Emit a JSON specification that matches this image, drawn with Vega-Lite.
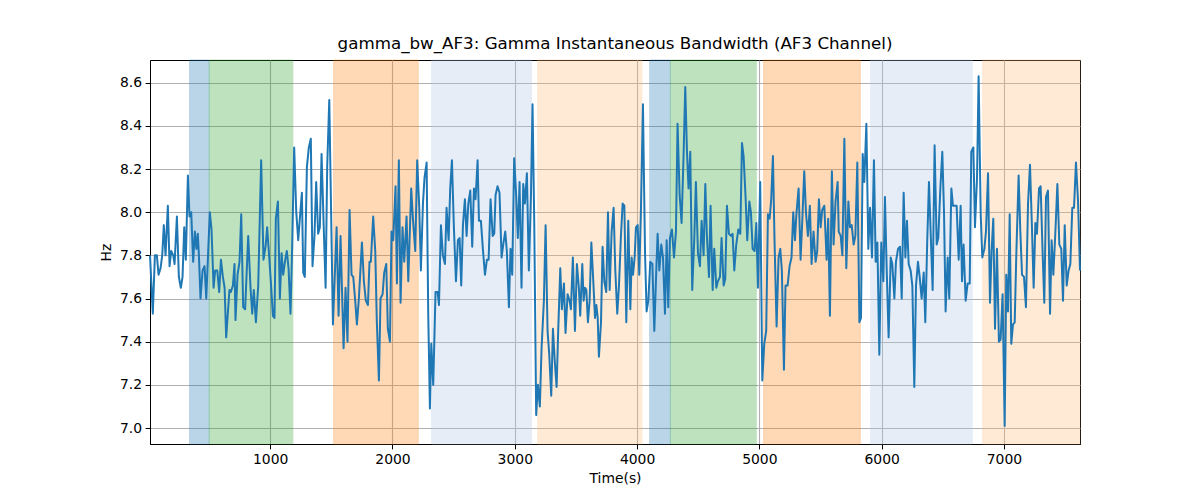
{
  "$schema": "https://vega.github.io/schema/vega-lite/v6.json",
  "width": 930,
  "height": 384,
  "autosize": {"type": "none"},
  "padding": {"left": 150, "top": 60, "right": 120, "bottom": 56},
  "background": "white",
  "title": {"text": "gamma_bw_AF3: Gamma Instantaneous Bandwidth (AF3 Channel)", "font": "DejaVu Sans", "fontSize": 16.7, "fontWeight": "normal", "color": "black", "offset": 7},
  "datasets": {
    "bands": [
      {"start": 340, "end": 501, "kind": "c1"},
      {"start": 501, "end": 1185, "kind": "c2"},
      {"start": 1518, "end": 2211, "kind": "c3"},
      {"start": 2320, "end": 3137, "kind": "c4"},
      {"start": 3186, "end": 4040, "kind": "c5"},
      {"start": 4103, "end": 4272, "kind": "c1"},
      {"start": 4272, "end": 4975, "kind": "c2"},
      {"start": 5034, "end": 5826, "kind": "c3"},
      {"start": 5910, "end": 6741, "kind": "c4"},
      {"start": 6826, "end": 7622, "kind": "c5"}
    ],
    "signal": [
      {"t":17,"v":7.80},{"t":40,"v":7.53},{"t":57,"v":7.80},{"t":73,"v":7.80},{"t":87,"v":7.71},{"t":103,"v":7.74},{"t":117,"v":7.80},{"t":130,"v":7.94},{"t":144,"v":7.80},{"t":163,"v":8.03},{"t":177,"v":7.75},{"t":190,"v":7.82},{"t":207,"v":7.80},{"t":218,"v":7.76},{"t":237,"v":7.98},{"t":253,"v":7.70},{"t":269,"v":7.65},{"t":283,"v":7.70},{"t":297,"v":7.93},{"t":310,"v":7.78},{"t":327,"v":8.17},{"t":340,"v":7.98},{"t":354,"v":8.00},{"t":370,"v":7.77},{"t":384,"v":7.91},{"t":397,"v":7.83},{"t":408,"v":7.90},{"t":417,"v":7.80},{"t":430,"v":7.60},{"t":447,"v":7.73},{"t":463,"v":7.75},{"t":477,"v":7.60},{"t":493,"v":7.82},{"t":506,"v":8.00},{"t":520,"v":7.92},{"t":537,"v":7.65},{"t":550,"v":7.73},{"t":567,"v":7.73},{"t":583,"v":7.63},{"t":597,"v":7.78},{"t":613,"v":7.70},{"t":627,"v":7.65},{"t":640,"v":7.42},{"t":657,"v":7.56},{"t":667,"v":7.64},{"t":678,"v":7.63},{"t":695,"v":7.66},{"t":708,"v":7.76},
      {"t":716,"v":7.50},{"t":733,"v":7.71},{"t":749,"v":7.77},{"t":763,"v":7.99},{"t":779,"v":7.56},{"t":795,"v":7.55},{"t":820,"v":7.89},{"t":839,"v":7.65},{"t":853,"v":7.53},{"t":866,"v":7.64},{"t":883,"v":7.49},{"t":902,"v":7.66},{"t":926,"v":8.24},{"t":945,"v":7.78},{"t":962,"v":7.84},{"t":975,"v":7.93},{"t":992,"v":7.79},{"t":1005,"v":7.68},{"t":1022,"v":7.52},{"t":1035,"v":7.51},{"t":1046,"v":7.97},{"t":1063,"v":8.05},{"t":1079,"v":7.60},{"t":1093,"v":7.81},{"t":1106,"v":7.71},{"t":1123,"v":7.78},{"t":1136,"v":7.82},{"t":1150,"v":7.74},{"t":1166,"v":7.53},{"t":1180,"v":7.85},{"t":1196,"v":8.30},{"t":1213,"v":8.00},{"t":1229,"v":7.87},{"t":1245,"v":7.99},{"t":1259,"v":8.09},{"t":1270,"v":7.72},{"t":1283,"v":7.70},{"t":1300,"v":8.21},{"t":1316,"v":8.30},{"t":1332,"v":8.34},{"t":1346,"v":7.75},{"t":1362,"v":7.89},{"t":1376,"v":8.14},{"t":1392,"v":7.90},{"t":1406,"v":7.93},{"t":1420,"v":8.27},
      {"t":1436,"v":7.96},{"t":1453,"v":7.65},{"t":1466,"v":8.21},{"t":1483,"v":8.52},{"t":1513,"v":7.48},{"t":1543,"v":7.93},{"t":1559,"v":7.52},{"t":1575,"v":7.89},{"t":1600,"v":7.37},{"t":1616,"v":7.65},{"t":1632,"v":7.40},{"t":1649,"v":8.01},{"t":1665,"v":7.71},{"t":1679,"v":7.70},{"t":1695,"v":7.59},{"t":1709,"v":7.48},{"t":1725,"v":7.60},{"t":1750,"v":7.86},{"t":1766,"v":7.68},{"t":1782,"v":7.59},{"t":1799,"v":7.57},{"t":1812,"v":7.77},{"t":1823,"v":7.77},{"t":1842,"v":7.98},{"t":1859,"v":7.82},{"t":1872,"v":7.49},{"t":1889,"v":7.22},{"t":1902,"v":7.60},{"t":1919,"v":7.62},{"t":1932,"v":7.72},{"t":1949,"v":7.76},{"t":1962,"v":7.46},{"t":1979,"v":7.40},{"t":1992,"v":7.91},{"t":2006,"v":7.87},{"t":2025,"v":8.12},{"t":2036,"v":7.67},{"t":2052,"v":8.24},{"t":2066,"v":7.58},{"t":2082,"v":7.93},{"t":2096,"v":7.77},{"t":2115,"v":7.98},{"t":2129,"v":7.68},
      {"t":2153,"v":8.11},{"t":2167,"v":7.97},{"t":2186,"v":7.82},{"t":2202,"v":8.24},{"t":2219,"v":8.02},{"t":2232,"v":7.73},{"t":2249,"v":8.04},{"t":2262,"v":8.16},{"t":2279,"v":8.23},{"t":2292,"v":7.54},{"t":2306,"v":7.09},{"t":2317,"v":7.39},{"t":2333,"v":7.20},{"t":2352,"v":7.63},{"t":2369,"v":7.63},{"t":2380,"v":7.57},{"t":2396,"v":7.94},{"t":2412,"v":7.80},{"t":2429,"v":7.76},{"t":2442,"v":8.02},{"t":2459,"v":7.87},{"t":2472,"v":8.11},{"t":2486,"v":8.24},{"t":2502,"v":7.93},{"t":2519,"v":7.68},{"t":2535,"v":7.87},{"t":2549,"v":7.88},{"t":2562,"v":7.66},{"t":2576,"v":7.94},{"t":2592,"v":8.06},{"t":2606,"v":7.89},{"t":2620,"v":8.04},{"t":2636,"v":8.10},{"t":2652,"v":7.84},{"t":2666,"v":8.11},{"t":2679,"v":8.06},{"t":2696,"v":8.24},{"t":2707,"v":7.96},{"t":2723,"v":7.96},{"t":2739,"v":7.83},{"t":2756,"v":7.71},{"t":2772,"v":7.78},{"t":2786,"v":7.78},{"t":2802,"v":8.06},{"t":2819,"v":7.89},{"t":2832,"v":7.90},
      {"t":2843,"v":8.08},{"t":2859,"v":8.12},{"t":2875,"v":8.09},{"t":2892,"v":7.79},{"t":2908,"v":7.86},{"t":2922,"v":7.91},{"t":2935,"v":7.82},{"t":2952,"v":7.56},{"t":2965,"v":7.83},{"t":2979,"v":7.71},{"t":2995,"v":8.25},{"t":3012,"v":8.07},{"t":3025,"v":7.88},{"t":3039,"v":8.14},{"t":3055,"v":7.65},{"t":3069,"v":8.13},{"t":3083,"v":8.04},{"t":3099,"v":8.18},{"t":3115,"v":7.73},{"t":3132,"v":8.07},{"t":3145,"v":8.50},{"t":3159,"v":7.96},{"t":3175,"v":7.06},{"t":3189,"v":7.20},{"t":3205,"v":7.10},{"t":3219,"v":7.37},{"t":3238,"v":7.59},{"t":3252,"v":7.94},{"t":3268,"v":7.45},{"t":3282,"v":7.34},{"t":3298,"v":7.15},{"t":3312,"v":7.46},{"t":3328,"v":7.30},{"t":3342,"v":7.19},{"t":3355,"v":7.45},{"t":3372,"v":7.74},{"t":3385,"v":7.55},{"t":3402,"v":7.67},{"t":3415,"v":7.44},{"t":3432,"v":7.62},{"t":3448,"v":7.59},{"t":3459,"v":7.55},{"t":3475,"v":7.79},{"t":3492,"v":7.45},{"t":3508,"v":7.76},{"t":3524,"v":7.65},{"t":3535,"v":7.52},
      {"t":3552,"v":7.76},{"t":3563,"v":7.59},{"t":3574,"v":7.65},{"t":3585,"v":7.64},{"t":3598,"v":7.49},{"t":3612,"v":7.59},{"t":3626,"v":7.86},{"t":3642,"v":7.68},{"t":3656,"v":7.51},{"t":3667,"v":7.57},{"t":3678,"v":7.51},{"t":3688,"v":7.33},{"t":3705,"v":7.49},{"t":3718,"v":7.84},{"t":3732,"v":7.68},{"t":3748,"v":7.63},{"t":3762,"v":8.00},{"t":3776,"v":7.64},{"t":3792,"v":7.91},{"t":3808,"v":8.02},{"t":3822,"v":7.73},{"t":3838,"v":7.53},{"t":3852,"v":7.66},{"t":3868,"v":7.89},{"t":3882,"v":8.04},{"t":3896,"v":8.03},{"t":3912,"v":7.49},{"t":3928,"v":7.96},{"t":3945,"v":7.55},{"t":3956,"v":7.79},{"t":3967,"v":7.71},{"t":3980,"v":7.79},{"t":3991,"v":7.93},{"t":4005,"v":7.94},{"t":4018,"v":7.71},{"t":4032,"v":8.02},{"t":4048,"v":8.50},{"t":4065,"v":7.81},{"t":4078,"v":7.54},{"t":4092,"v":7.59},{"t":4108,"v":7.77},{"t":4125,"v":7.76},{"t":4141,"v":7.45},{"t":4157,"v":7.73},{"t":4168,"v":7.90},{"t":4182,"v":7.73},{"t":4198,"v":7.85},{"t":4212,"v":7.79},{"t":4228,"v":7.53},{"t":4242,"v":7.87},
      {"t":4255,"v":7.56},{"t":4269,"v":7.88},{"t":4285,"v":7.92},{"t":4302,"v":7.79},{"t":4318,"v":7.91},{"t":4331,"v":8.41},{"t":4348,"v":8.08},{"t":4364,"v":7.95},{"t":4381,"v":8.28},{"t":4394,"v":8.58},{"t":4408,"v":8.28},{"t":4421,"v":8.11},{"t":4435,"v":8.28},{"t":4451,"v":7.64},{"t":4468,"v":7.88},{"t":4481,"v":8.14},{"t":4498,"v":7.81},{"t":4514,"v":7.75},{"t":4528,"v":7.96},{"t":4544,"v":7.80},{"t":4558,"v":8.13},{"t":4571,"v":7.89},{"t":4588,"v":7.70},{"t":4601,"v":8.03},{"t":4618,"v":7.64},{"t":4631,"v":7.83},{"t":4648,"v":7.65},{"t":4661,"v":7.68},{"t":4678,"v":7.70},{"t":4691,"v":7.88},{"t":4708,"v":7.66},{"t":4721,"v":7.69},{"t":4735,"v":8.03},{"t":4751,"v":7.90},{"t":4768,"v":7.89},{"t":4781,"v":7.90},{"t":4795,"v":7.73},{"t":4811,"v":7.85},{"t":4828,"v":7.92},{"t":4844,"v":7.90},{"t":4858,"v":8.32},{"t":4871,"v":8.26},{"t":4888,"v":8.06},{"t":4901,"v":7.87},{"t":4918,"v":8.05},{"t":4931,"v":8.00},{"t":4945,"v":7.83},
      {"t":4961,"v":7.82},{"t":4975,"v":7.95},{"t":4988,"v":7.65},{"t":5007,"v":8.14},{"t":5024,"v":7.22},{"t":5040,"v":7.39},{"t":5056,"v":7.45},{"t":5070,"v":7.99},{"t":5084,"v":7.97},{"t":5097,"v":8.06},{"t":5111,"v":8.26},{"t":5124,"v":7.87},{"t":5141,"v":7.47},{"t":5157,"v":7.79},{"t":5171,"v":7.83},{"t":5184,"v":7.73},{"t":5201,"v":7.27},{"t":5214,"v":7.66},{"t":5231,"v":7.66},{"t":5247,"v":7.75},{"t":5263,"v":7.79},{"t":5277,"v":8.00},{"t":5291,"v":7.87},{"t":5304,"v":8.00},{"t":5321,"v":8.11},{"t":5337,"v":7.78},{"t":5351,"v":7.96},{"t":5367,"v":8.19},{"t":5381,"v":8.00},{"t":5397,"v":7.89},{"t":5413,"v":8.03},{"t":5427,"v":7.76},{"t":5443,"v":7.91},{"t":5460,"v":7.77},{"t":5473,"v":7.82},{"t":5487,"v":8.06},{"t":5501,"v":7.93},{"t":5514,"v":8.01},{"t":5531,"v":8.03},{"t":5550,"v":7.78},{"t":5563,"v":7.97},{"t":5577,"v":7.52},{"t":5593,"v":8.19},{"t":5607,"v":7.85},{"t":5623,"v":8.05},{"t":5640,"v":8.14},
      {"t":5649,"v":7.91},{"t":5665,"v":7.89},{"t":5679,"v":7.80},{"t":5695,"v":8.34},{"t":5711,"v":7.74},{"t":5728,"v":8.05},{"t":5741,"v":7.93},{"t":5755,"v":7.94},{"t":5771,"v":7.85},{"t":5785,"v":7.89},{"t":5801,"v":8.23},{"t":5818,"v":7.49},{"t":5831,"v":7.51},{"t":5845,"v":8.27},{"t":5858,"v":8.14},{"t":5875,"v":8.41},{"t":5891,"v":7.83},{"t":5905,"v":8.02},{"t":5921,"v":7.79},{"t":5937,"v":8.24},{"t":5951,"v":7.77},{"t":5965,"v":7.86},{"t":5981,"v":7.34},{"t":5997,"v":7.86},{"t":6014,"v":7.68},{"t":6027,"v":8.07},{"t":6041,"v":7.74},{"t":6057,"v":7.42},{"t":6074,"v":7.79},{"t":6087,"v":7.76},{"t":6104,"v":7.60},{"t":6117,"v":7.77},{"t":6134,"v":7.83},{"t":6150,"v":7.84},{"t":6164,"v":7.60},{"t":6180,"v":8.09},{"t":6194,"v":7.79},{"t":6207,"v":7.96},{"t":6221,"v":7.76},{"t":6237,"v":7.73},{"t":6251,"v":7.66},{"t":6267,"v":7.19},{"t":6281,"v":7.66},{"t":6297,"v":7.77},{"t":6311,"v":7.70},{"t":6327,"v":7.60},{"t":6344,"v":7.72},{"t":6357,"v":7.49},
      {"t":6373,"v":7.87},{"t":6387,"v":8.14},{"t":6403,"v":7.87},{"t":6417,"v":7.64},{"t":6433,"v":8.31},{"t":6450,"v":7.85},{"t":6463,"v":7.88},{"t":6480,"v":8.11},{"t":6496,"v":8.28},{"t":6510,"v":8.00},{"t":6523,"v":7.54},{"t":6540,"v":7.79},{"t":6553,"v":7.60},{"t":6570,"v":8.11},{"t":6583,"v":8.03},{"t":6600,"v":8.03},{"t":6613,"v":8.03},{"t":6630,"v":7.78},{"t":6646,"v":8.03},{"t":6657,"v":7.68},{"t":6670,"v":7.85},{"t":6687,"v":7.59},{"t":6703,"v":7.67},{"t":6720,"v":7.67},{"t":6733,"v":8.28},{"t":6750,"v":8.30},{"t":6763,"v":7.93},{"t":6780,"v":8.16},{"t":6793,"v":8.63},{"t":6810,"v":7.99},{"t":6823,"v":7.79},{"t":6840,"v":7.83},{"t":6853,"v":7.91},{"t":6870,"v":8.18},{"t":6886,"v":7.58},{"t":6899,"v":7.82},{"t":6913,"v":7.97},{"t":6927,"v":7.46},{"t":6943,"v":7.83},{"t":6959,"v":7.40},{"t":6973,"v":7.41},{"t":6989,"v":7.62},{"t":7006,"v":7.01},{"t":7019,"v":7.71},{"t":7033,"v":7.54},{"t":7047,"v":7.99},{"t":7060,"v":7.39},
      {"t":7074,"v":7.48},{"t":7088,"v":7.49},{"t":7101,"v":7.80},{"t":7120,"v":8.17},{"t":7134,"v":7.91},{"t":7148,"v":7.71},{"t":7164,"v":7.70},{"t":7180,"v":7.56},{"t":7197,"v":8.04},{"t":7213,"v":8.22},{"t":7229,"v":7.93},{"t":7243,"v":7.65},{"t":7257,"v":7.95},{"t":7270,"v":7.90},{"t":7287,"v":8.11},{"t":7300,"v":8.12},{"t":7317,"v":7.80},{"t":7330,"v":7.58},{"t":7344,"v":8.07},{"t":7360,"v":8.10},{"t":7377,"v":7.53},{"t":7390,"v":7.87},{"t":7404,"v":7.71},{"t":7420,"v":7.90},{"t":7437,"v":8.13},{"t":7453,"v":7.85},{"t":7469,"v":7.83},{"t":7483,"v":7.59},{"t":7497,"v":7.94},{"t":7513,"v":7.66},{"t":7529,"v":7.73},{"t":7543,"v":7.76},{"t":7559,"v":8.02},{"t":7573,"v":8.02},{"t":7589,"v":8.23},{"t":7606,"v":8.05},{"t":7622,"v":7.73}
    ]
  },
  "layer": [
    {
      "data": {"name": "bands"},
      "mark": {"type": "rect", "opacity": 0.3, "strokeWidth": 1},
      "encoding": {
        "x": {"field": "start", "type": "quantitative", "title": "Time(s)",
              "scale": {"domain": [17, 7622], "nice": false, "zero": false},
              "axis": {"values": [1000, 2000, 3000, 4000, 5000, 6000, 7000], "format": "d", "titlePadding": 5}},
        "x2": {"field": "end"},
        "color": {"field": "kind", "type": "nominal",
                  "scale": {"domain": ["c1", "c2", "c3", "c4", "c5"], "range": ["#1f77b4", "#2ca02c", "#ff7f0e", "#aec7e8", "#ffbb78"]},
                  "legend": null},
        "stroke": {"field": "kind", "type": "nominal",
                  "scale": {"domain": ["c1", "c2", "c3", "c4", "c5"], "range": ["#1f77b4", "#2ca02c", "#ff7f0e", "#aec7e8", "#ffbb78"]},
                  "legend": null}
      }
    },
    {
      "data": {"name": "signal"},
      "mark": {"type": "line", "color": "#1f77b4", "strokeWidth": 2, "strokeJoin": "round", "strokeCap": "butt"},
      "encoding": {
        "x": {"field": "t", "type": "quantitative", "title": "Time(s)",
              "scale": {"domain": [17, 7622], "nice": false, "zero": false},
              "axis": {"values": [1000, 2000, 3000, 4000, 5000, 6000, 7000], "format": "d", "titlePadding": 5}},
        "y": {"field": "v", "type": "quantitative", "title": "Hz",
              "scale": {"domain": [6.926, 8.705], "nice": false, "zero": false},
              "axis": {"values": [7.0, 7.2, 7.4, 7.6, 7.8, 8.0, 8.2, 8.4, 8.6], "format": ".1f", "titlePadding": 6}}
      }
    }
  ],
  "config": {
    "view": {"stroke": "black", "strokeWidth": 1},
    "axis": {
      "domainColor": "black", "domainWidth": 1,
      "tickColor": "black", "tickWidth": 1, "tickSize": 4.9,
      "labelColor": "black", "labelFont": "DejaVu Sans", "labelFontSize": 13.9, "labelPadding": 3.5,
      "titleColor": "black", "titleFont": "DejaVu Sans", "titleFontSize": 13.9, "titleFontWeight": "normal",
      "gridColor": "#b0b0b0", "gridWidth": 1.1, "gridOpacity": 1
    }
  }
}
